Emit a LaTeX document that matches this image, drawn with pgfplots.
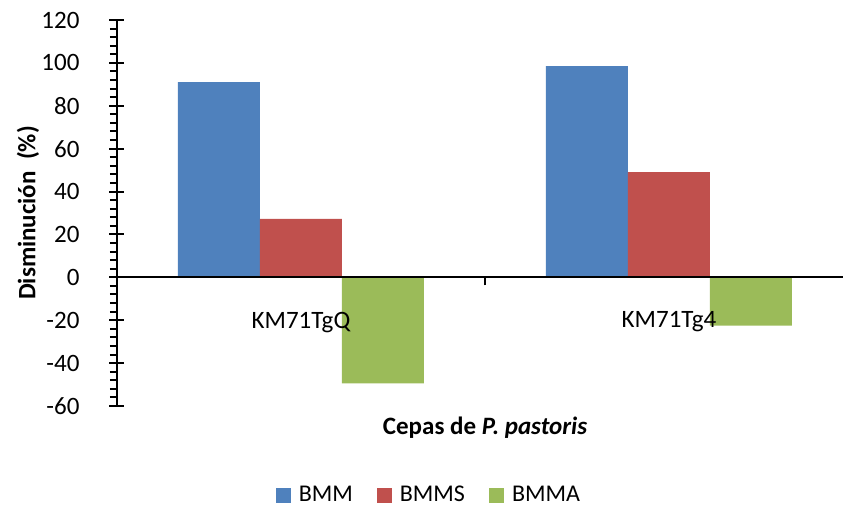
\documentclass[border=0pt]{standalone}
\usepackage{pgfplots}
\pgfplotsset{compat=1.18}
\usepackage{fontspec}
\setmainfont{Carlito}
\definecolor{bmm}{HTML}{4F81BD}
\definecolor{bmms}{HTML}{C0504D}
\definecolor{bmma}{HTML}{9BBB59}
\newcommand{\chartfont}{\fontsize{12.5}{14}\selectfont}
\newcommand{\legendfont}{\fontsize{12}{14}\selectfont}
\begin{document}
\begin{tikzpicture}
\begin{axis}[
    at={(0,0)},anchor=south west,
    scale only axis,width=363pt,height=193pt,
    xmin=-0.5,xmax=1.473,
    ymin=-60,ymax=120,
    axis x line=middle,axis y line=left,
    axis line style={-,line width=1pt},
    axis on top,
    ytick distance=20,minor y tick num=4,
    tick align=center,
    major tick length=7.5pt,minor tick length=3.5pt,
    every tick/.style={black,line width=1pt},
    minor y tick style={xshift=-1.75pt},
    xtick={0,1},xticklabels={KM71TgQ,KM71Tg4},
    x tick style={draw=none},
    extra x ticks={0.5},extra x tick labels={},
    extra x tick style={x tick style={draw=black,yshift=-2pt},major tick length=4pt},
    tick label style={font=\chartfont},
    /pgf/number format/assume math mode=true,
    yticklabel style={xshift=-11.5pt},
    xticklabel style={yshift=-10pt},
    xlabel={\bfseries Cepas de \textit{P. pastoris}},
    ylabel={\bfseries Disminución\ \ (\%)},
    every axis x label/.style={at={(axis description cs:0.507,-0.057)},anchor=center,font=\chartfont},
    every axis y label/.style={at={(axis description cs:-0.1226,0.5)},anchor=center,rotate=90,font=\chartfont},
    legend style={at={(axis description cs:0.431,-0.232)},anchor=center,draw=none,
        legend columns=3,font=\legendfont,inner ysep=0pt,
        nodes={inner ysep=0pt},
        /tikz/every odd column/.append style={column sep=2pt},
        /tikz/every even column/.append style={column sep=10pt}},
    legend image code/.code={\fill[#1] (0pt,-3.75pt) rectangle (7.5pt,3.75pt);},
]
\addplot[ybar,bar width=41pt,bar shift=-41pt,fill=bmm,draw=none]
    coordinates {(0,91) (1,98.5)};
\addplot[ybar,bar width=41pt,bar shift=0pt,fill=bmms,draw=none]
    coordinates {(0,27.2) (1,49)};
\addplot[ybar,bar width=41pt,bar shift=41pt,fill=bmma,draw=none]
    coordinates {(0,-49.5) (1,-22.5)};
\legend{BMM,BMMS,BMMA}
\end{axis}
\pgfresetboundingbox
\path[use as bounding box] (-58.5pt,-50pt) rectangle (363pt,203pt);
\end{tikzpicture}
\end{document}
